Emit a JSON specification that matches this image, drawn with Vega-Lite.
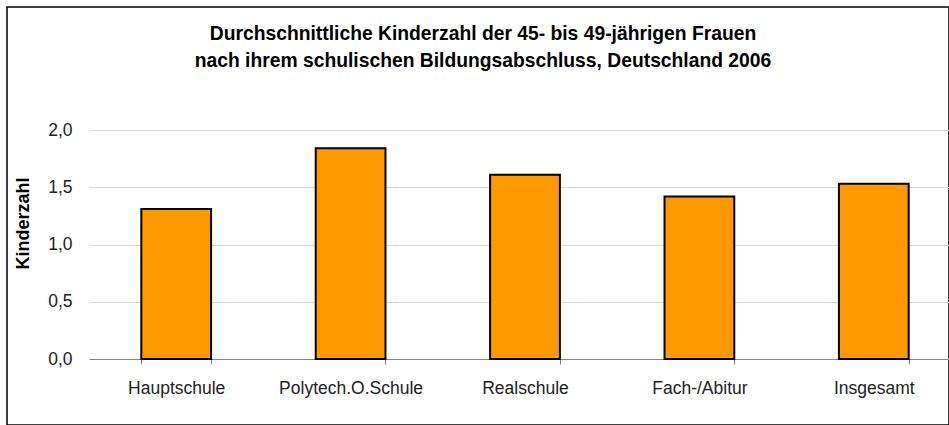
{
  "$schema": "https://vega.github.io/schema/vega-lite/v6.json",
  "width": 942,
  "height": 418,
  "autosize": {"type": "none"},
  "padding": {"left": 7, "top": 7, "right": 0, "bottom": 0},
  "background": "white",
  "title": {
    "text": ["Durchschnittliche Kinderzahl der 45- bis 49-jährigen Frauen", "nach ihrem schulischen Bildungsabschluss,  Deutschland 2006"],
    "font": "Liberation Sans",
    "fontSize": 19.3,
    "fontWeight": "bold",
    "lineHeight": 27,
    "anchor": "middle",
    "frame": "group",
    "baseline": "top",
    "offset": -64,
    "dx": 5,
    "color": "black"
  },
  "data": {
    "values": [
      {"Abschluss": "Hauptschule", "Kinderzahl": 1.31},
      {"Abschluss": "Polytech.O.Schule", "Kinderzahl": 1.84},
      {"Abschluss": "Realschule", "Kinderzahl": 1.61},
      {"Abschluss": "Fach-/Abitur", "Kinderzahl": 1.42},
      {"Abschluss": "Insgesamt", "Kinderzahl": 1.53}
    ]
  },
  "mark": {"type": "bar", "color": "#FF9900", "stroke": "black", "strokeWidth": 2},
  "encoding": {
    "x": {
      "field": "Abschluss",
      "type": "nominal",
      "sort": null,
      "scale": {"range": [82, 954], "paddingInner": 0.6, "paddingOuter": 0.3},
      "axis": {
        "title": null,
        "labelAngle": 0,
        "offset": -66,
        "tickBand": "extent",
        "tickSize": 5,
        "tickColor": "#868686",
        "domainColor": "#868686",
        "labelPadding": 15,
        "labelFont": "Liberation Sans",
        "labelFontSize": 17.5,
        "labelColor": "#222222",
        "grid": false
      }
    },
    "y": {
      "field": "Kinderzahl",
      "type": "quantitative",
      "scale": {"domain": [0, 2], "range": [352, 123], "nice": false},
      "axis": {
        "title": "Kinderzahl",
        "titleFont": "Liberation Sans",
        "titleFontSize": 18,
        "titleFontWeight": "bold",
        "titleColor": "black",
        "titleBaseline": "alphabetic",
        "titleX": -61,
        "titleY": 216,
        "offset": -82,
        "domain": false,
        "ticks": false,
        "labelPadding": 17,
        "labelFont": "Liberation Sans",
        "labelFontSize": 17.5,
        "labelColor": "#222222",
        "values": [0, 0.5, 1, 1.5, 2],
        "labelExpr": "replace(format(datum.value,'.1f'),'.',',')",
        "grid": true,
        "gridColor": "#D9D9D9",
        "gridWidth": 1
      }
    }
  },
  "config": {"view": {"stroke": "black", "strokeWidth": 1.5}}
}
